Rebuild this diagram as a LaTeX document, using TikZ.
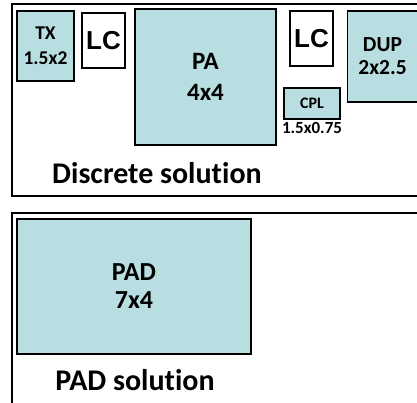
\documentclass[tikz,border=0pt]{standalone}
\usepackage{fontspec}
\setmainfont{Carlito}[Ligatures=NoCommon]
\newfontfamily\lcfont{Liberation Sans}
\usetikzlibrary{positioning}
\definecolor{blkfill}{RGB}{184,222,225}
\tikzset{
  frame/.style={draw, line width=2pt},
  blk/.style={draw, line width=1.6pt, fill=blkfill, inner sep=0pt, align=center},
  lc/.style={draw, line width=1.6pt, fill=white, inner sep=0pt,
    minimum width=43pt, minimum height=55pt,
    font=\lcfont\bfseries\fontsize{26}{26}\selectfont},
  caption/.style={anchor=base, inner sep=0pt, font=\bfseries\fontsize{30}{30}\selectfont}
}

\begin{document}
\begin{tikzpicture}[x=1pt, y=-1pt]
\useasboundingbox (0,0) rectangle (417,402);
\clip (0,0) rectangle (417,402);
% Frames
\draw[frame] (12,4) rectangle (440,195.5);
\draw[frame] (12,212.5) rectangle (440,430);

% Discrete solution
\node[blk, minimum width=57pt, minimum height=70pt,
  font=\bfseries\fontsize{19.5}{25}\selectfont] (tx) at (45.5,46) {TX\\1.5x2};
\node[lc] (lc1) at (103.5,40.5) {LC};
\node[blk, minimum width=141pt, minimum height=136pt,
  font=\bfseries\fontsize{25}{31}\selectfont] (pa) at (205.5,77) {PA\\4x4};
\node[lc] (lc2) at (311.5,38.5) {LC};
\node[blk, minimum width=56pt, minimum height=31pt,
  font=\bfseries\fontsize{16}{16}\selectfont] (cpl) at (312,103.5) {CPL};
\node[below=2pt of cpl, inner sep=0pt,
  font=\bfseries\fontsize{17}{17}\selectfont] (cplsize) {1.5x0.75};
\node[blk, minimum width=70pt, minimum height=91pt,
  font=\bfseries\fontsize{21.5}{23}\selectfont] (dup) at (382.5,56.5) {DUP\\2x2.5};
\node[caption] (disc) at (157,183) {Discrete solution};

% PAD solution
\node[blk, minimum width=234pt, minimum height=135pt,
  font=\bfseries\fontsize{26}{28}\selectfont] (pad) at (134,286.5) {PAD\\7x4};
\node[caption] (padsol) at (135,390) {PAD solution};
\end{tikzpicture}
\end{document}
